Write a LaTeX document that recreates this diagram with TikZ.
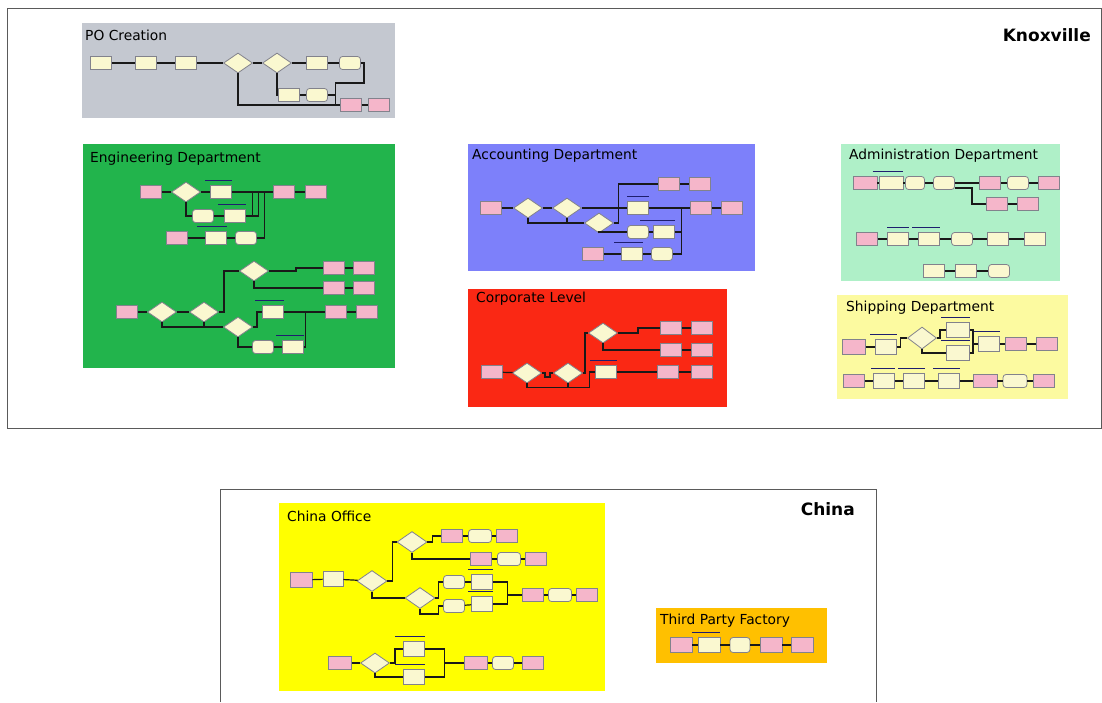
\documentclass[tikz,border=0pt]{standalone}
\usepackage{fontspec}
\setmainfont{DejaVu Sans}
\usetikzlibrary{shapes.geometric}
\definecolor{pogray}{RGB}{196,200,208}
\definecolor{enggreen}{RGB}{34,180,76}
\definecolor{accblue}{RGB}{125,128,250}
\definecolor{corpred}{RGB}{250,40,20}
\definecolor{admmint}{RGB}{175,240,200}
\definecolor{shipyel}{RGB}{252,250,160}
\definecolor{chinayel}{RGB}{255,255,0}
\definecolor{tpforange}{RGB}{255,192,0}
\definecolor{pinkbox}{RGB}{245,182,202}
\definecolor{creambox}{RGB}{250,248,208}
\definecolor{boxedge}{RGB}{130,130,140}
\definecolor{lineclr}{RGB}{25,25,25}
\definecolor{barclr}{RGB}{30,30,110}
\definecolor{frameclr}{RGB}{90,90,90}
\tikzset{
  ptitle/.style={anchor=west, inner sep=0pt, font=\fontsize{13.8}{15}\selectfont},
  big/.style={anchor=east, inner sep=0pt, font=\fontsize{17}{19}\selectfont\bfseries},
  pk/.style={rectangle, draw=boxedge, line width=0.8pt, fill=pinkbox, minimum width=21pt, minimum height=13pt, inner sep=0pt},
  yb/.style={rectangle, draw=boxedge, line width=0.8pt, fill=creambox, minimum width=21pt, minimum height=13pt, inner sep=0pt},
  rb/.style={yb, rounded corners=3pt},
  dm/.style={diamond, draw=boxedge, line width=0.8pt, fill=creambox, minimum width=29pt, minimum height=20pt, inner sep=0pt},
  cn/.style={draw=lineclr, line width=1.2pt},
  barln/.style={draw=barclr, line width=1.1pt},
  frame/.style={draw=frameclr, line width=0.8pt}
}
\newcommand\topbar[2][0]{\draw[barln] ([xshift=-#1pt,yshift=5pt]#2.north west) -- ([yshift=5pt]#2.north east);}
\begin{document}
\begin{tikzpicture}[x=1pt,y=-1pt]
\useasboundingbox (0,0) rectangle (1102,702);
\fill[white] (0,0) rectangle (1102,702);
% frames
\draw[frame] (7,8) rectangle (1101,428);
\node[big] (knox) at (1091,35) {Knoxville};
\draw[frame] (220,702) -- (220,489) -- (876,489) -- (876,702);
\node[big] (china) at (855,509) {China};
% panels
\fill[pogray] (82,23) rectangle (395,118);
\fill[enggreen] (83,144) rectangle (395,368);
\fill[accblue] (468,144) rectangle (755,271);
\fill[corpred] (468,289) rectangle (727,407);
\fill[admmint] (841,144) rectangle (1060,281);
\fill[shipyel] (837,295) rectangle (1068,399);
\fill[chinayel] (279,503) rectangle (605,691);
\fill[tpforange] (656,608) rectangle (827,663);
\node[ptitle] (tpo) at (85,35) {PO Creation};
\node[ptitle] (teng) at (90,159) {Engineering Department};
\node[ptitle] (tacc) at (472,156) {Accounting Department};
\node[ptitle] (tcorp) at (476,299) {Corporate Level};
\node[ptitle] (tadm) at (849,156) {Administration Department};
\node[ptitle] (tship) at (846,308) {Shipping Department};
\node[ptitle] (tchina) at (287,516) {China Office};
\node[ptitle] (ttpf) at (660,621) {Third Party Factory};

% ===== PO Creation =====
\node[yb] (po1) at (101,63) {};
\node[yb] (po2) at (146,63) {};
\node[yb] (po3) at (186,63) {};
\node[dm] (pod1) at (238,63) {};
\node[dm] (pod2) at (277,63) {};
\node[yb] (po4) at (317,63) {};
\node[rb] (po5) at (350,63) {};
\node[yb] (po6) at (289,95) {};
\node[rb] (po7) at (317,95) {};
\node[pk] (pop1) at (351,105) {};
\node[pk] (pop2) at (379,105) {};
\draw[cn] (po1) -- (po2); \draw[cn] (po2) -- (po3); \draw[cn] (po3) -- (pod1);
\draw[cn] (pod1) -- (pod2); \draw[cn] (pod2) -- (po4); \draw[cn] (po4) -- (po5);
\draw[cn] (pod2.south) |- (po6.west);
\draw[cn] (po6) -- (po7);
\draw[cn] (po5.east) -- ++(3,0) -- ++(0,20) -| ([xshift=-5pt]pop1.west) -- (pop1.west);
\draw[cn] (po7.east) -- ++(8,0);
\draw[cn] (pod1.south) |- (pop1.west);
\draw[cn] (pop1) -- (pop2);

% ===== Engineering =====
\node[pk] (e1) at (151,192) {};
\node[dm] (ed1) at (186,192) {};
\node[yb] (e2) at (221,192) {};
\node[pk] (e3) at (284,192) {};
\node[pk] (e4) at (316,192) {};
\node[rb] (e5) at (203,216) {};
\node[yb] (e6) at (235,216) {};
\node[pk] (e7) at (177,238) {};
\node[yb] (e8) at (216,238) {};
\node[rb] (e9) at (246,238) {};
\topbar[5]{e2} \topbar[6]{e6} \topbar[8]{e8}
\draw[cn] (e1) -- (ed1); \draw[cn] (ed1) -- (e2); \draw[cn] (e2) -- (e3); \draw[cn] (e3) -- (e4);
\draw[cn] (ed1.south) |- (e5.west);
\draw[cn] (e5) -- (e6);
\draw[cn] (e6.east) -- ++(12.5,0) -- ++(0,-24);
\draw[cn] (e6.east) ++(6.5,0) -- ++(0,-24);
\draw[cn] (e7) -- (e8); \draw[cn] (e8) -- (e9);
\draw[cn] (e9.east) -- ++(7.5,0) -- ++(0,-46);
\node[pk] (e10) at (127,312) {};
\node[dm] (ed2) at (162,312) {};
\node[dm] (ed3) at (204,312) {};
\node[dm] (ed4) at (254,271) {};
\node[pk] (e11) at (334,268) {};
\node[pk] (e12) at (364,268) {};
\node[pk] (e13) at (334,288) {};
\node[pk] (e14) at (364,288) {};
\node[dm] (ed5) at (238,327) {};
\node[yb] (e15) at (273,312) {};
\node[pk] (e16) at (336,312) {};
\node[pk] (e17) at (367,312) {};
\node[rb] (e18) at (263,347) {};
\node[yb] (e19) at (293,347) {};
\topbar[7]{e15} \topbar[6]{e19}
\draw[cn] (e10) -- (ed2); \draw[cn] (ed2) -- (ed3);
\draw[cn] (ed3.east) -- ++(5,0) |- (ed4.west);
\draw[cn] (ed4.east) -- ++(27,0) |- (e11.west);
\draw[cn] (ed4.south) |- (e13.west);
\draw[cn] (e11) -- (e12); \draw[cn] (e13) -- (e14);
\draw[cn] (ed2.south) |- (ed5.west);
\draw[cn] (ed3.south) -- ++(0,5);
\draw[cn] (ed5.east) -- ++(4,0) |- (e15.west);
\draw[cn] (ed5.south) |- (e18.west);
\draw[cn] (e18) -- (e19);
\draw[cn] (e15) -- (e16);
\draw[cn] (e19.east) -| ([xshift=-20pt]e16.west);
\draw[cn] (e16) -- (e17);

% ===== Accounting =====
\node[pk] (a1) at (491,208) {};
\node[dm] (ad1) at (528,208) {};
\node[dm] (ad2) at (567,208) {};
\node[dm] (ad3) at (599,223) {};
\node[yb] (a2) at (638,208) {};
\node[pk] (a3) at (669,184) {};
\node[pk] (a4) at (700,184) {};
\node[pk] (a5) at (701,208) {};
\node[pk] (a6) at (732,208) {};
\node[rb] (a7) at (638,232) {};
\node[yb] (a8) at (664,232) {};
\node[pk] (a9) at (593,254) {};
\node[yb] (a10) at (632,254) {};
\node[rb] (a11) at (662,254) {};
\topbar{a2} \topbar[13]{a8} \topbar[7]{a10}
\draw[cn] (a1) -- (ad1); \draw[cn] (ad1) -- (ad2); \draw[cn] (ad2) -- (a2);
\draw[cn] (a2) -- (a5); \draw[cn] (a5) -- (a6);
\draw[cn] (ad1.south) |- (ad3.west);
\draw[cn] (ad2.south) -- ++(0,5);
\draw[cn] (ad3.east) -- ++(4.5,0) |- (a3.west);
\draw[cn] (a3) -- (a4);
\draw[cn] (ad3.south) |- (a7.west);
\draw[cn] (a7) -- (a8);
\draw[cn] (a8.east) -- ++(6.5,0) -- ++(0,-24);
\draw[cn] (a9) -- (a10); \draw[cn] (a10) -- (a11);
\draw[cn] (a11.east) -| ([xshift=-8.5pt]a5.west);

% ===== Corporate =====
\node[pk] (c1) at (492,372) {};
\node[dm] (cd1) at (527,373) {};
\node[dm] (cd2) at (568,373) {};
\node[dm] (cd3) at (603,333) {};
\node[pk] (c2) at (671,328) {};
\node[pk] (c3) at (702,328) {};
\node[pk] (c4) at (671,350) {};
\node[pk] (c5) at (702,350) {};
\node[yb] (c6) at (606,372) {};
\node[pk] (c7) at (668,372) {};
\node[pk] (c8) at (702,372) {};
\topbar[5]{c6}
\draw[cn] (c1) -- (cd1);
\draw[cn] (cd1.east) -- ++(3,0) -- ++(0,4) -- ++(5,0) -- ++(0,-4) -- (cd2.west);
\draw[cn] (cd2.east) -- ++(2,0) |- (cd3.west);
\draw[cn] (cd3.east) -- ++(20,0) |- (c2.west);
\draw[cn] (cd3.south) |- (c4.west);
\draw[cn] (c2) -- (c3); \draw[cn] (c4) -- (c5);
\draw[cn] (cd1.south) -- ++(0,4) -| ([xshift=-6pt]c6.west) -- (c6.west);
\draw[cn] (cd2.south) -- ++(0,4);
\draw[cn] (c6) -- (c7); \draw[cn] (c7) -- (c8);

% ===== Administration =====
\node[pk, minimum width=24pt] (d1) at (865,183) {};
\node[yb, minimum width=24pt] (d2) at (891,183) {};
\node[rb, minimum width=19pt] (d3) at (915,183) {};
\node[rb] (d4) at (944,183) {};
\node[pk] (d5) at (990,183) {};
\node[rb] (d6) at (1018,183) {};
\node[pk] (d7) at (1049,183) {};
\node[pk] (d8) at (997,204) {};
\node[pk] (d9) at (1028,204) {};
\node[pk] (d10) at (867,239) {};
\node[yb] (d11) at (898,239) {};
\node[yb] (d12) at (929,239) {};
\node[rb] (d13) at (962,239) {};
\node[yb] (d14) at (998,239) {};
\node[yb] (d15) at (1035,239) {};
\node[yb] (d16) at (934,271) {};
\node[yb] (d17) at (966,271) {};
\node[rb] (d18) at (999,271) {};
\topbar[6]{d2} \topbar{d11} \topbar[6]{d12}
\draw[cn] (d1) -- (d2); \draw[cn] (d2) -- (d3); \draw[cn] (d3) -- (d4);
\draw[cn] (d4) -- (d5); \draw[cn] (d5) -- (d6); \draw[cn] (d6) -- (d7);
\draw[cn] ([yshift=-5pt]d4.east) -- ++(17,0) |- (d8.west);
\draw[cn] (d8) -- (d9);
\draw[cn] (d10) -- (d11); \draw[cn] (d11) -- (d12); \draw[cn] (d12) -- (d13);
\draw[cn] (d13) -- (d14); \draw[cn] (d14) -- (d15);
\draw[cn] (d16) -- (d17); \draw[cn] (d17) -- (d18);

% ===== Shipping =====
\node[pk, minimum width=23pt, minimum height=15pt] (s1) at (854,347) {};
\node[yb, minimum height=15pt] (s2) at (886,347) {};
\node[dm, minimum height=22pt] (sd1) at (922,338) {};
\node[yb, minimum width=23pt, minimum height=15pt] (s3) at (958,330) {};
\node[yb, minimum width=23pt, minimum height=15pt] (s4) at (958,353) {};
\node[yb, minimum height=15pt] (s5) at (989,344) {};
\node[pk] (s6) at (1016,344) {};
\node[pk] (s7) at (1047,344) {};
\node[pk] (s8) at (854,381) {};
\node[yb, minimum height=15pt] (s9) at (884,381) {};
\node[yb, minimum height=15pt] (s10) at (914,381) {};
\node[yb, minimum height=15pt] (s11) at (949,381) {};
\node[pk, minimum width=24pt] (s12) at (985,381) {};
\node[rb, minimum width=24pt] (s13) at (1015,381) {};
\node[pk] (s14) at (1044,381) {};
\topbar[5]{s2} \topbar[5]{s3} \topbar[5]{s4} \topbar[5]{s5}
\topbar[2]{s9} \topbar[5]{s10} \topbar[5]{s11}
\draw[cn] (s1) -- (s2);
\draw[cn] (s2.east) -- ++(3.5,0) |- (sd1.west);
\draw[cn] (sd1.east) -- ++(3,0) |- (s3.west);
\draw[cn] (sd1.south) |- (s4.west);
\draw[cn] (s3.east) -- ++(3,0) |- (s5.west);
\draw[cn] (s4.east) -- ++(3,0) |- (s5.west);
\draw[cn] (s5) -- (s6); \draw[cn] (s6) -- (s7);
\draw[cn] (s8) -- (s9); \draw[cn] (s9) -- (s10); \draw[cn] (s10) -- (s11);
\draw[cn] (s11) -- (s12); \draw[cn] (s12) -- (s13); \draw[cn] (s13) -- (s14);

% ===== China Office =====
\node[pk, minimum width=22pt, minimum height=15pt] (h1) at (301,580) {};
\node[yb, minimum width=20pt, minimum height=15pt] (h2) at (333,579) {};
\node[dm, minimum width=30pt, minimum height=21pt] (hd1) at (372,581) {};
\node[dm, minimum width=30pt, minimum height=21pt] (hd2) at (412,542) {};
\node[pk] (h3) at (452,536) {};
\node[rb, minimum width=23pt] (h4) at (480,536) {};
\node[pk] (h5) at (507,536) {};
\node[pk] (h6) at (481,559) {};
\node[rb, minimum width=23pt] (h7) at (509,559) {};
\node[pk] (h8) at (536,559) {};
\node[dm, minimum width=30pt, minimum height=21pt] (hd3) at (420,598) {};
\node[rb] (h9) at (454,582) {};
\node[yb, minimum height=15pt] (h10) at (482,582) {};
\node[rb] (h11) at (454,606) {};
\node[yb, minimum height=15pt] (h12) at (482,604) {};
\node[pk] (h13) at (533,595) {};
\node[rb, minimum width=23pt] (h14) at (560,595) {};
\node[pk] (h15) at (587,595) {};
\node[pk, minimum width=23pt] (h16) at (340,663) {};
\node[dm] (hd4) at (375,663) {};
\node[yb, minimum height=15pt] (h17) at (414,649) {};
\node[yb, minimum height=15pt] (h18) at (414,677) {};
\node[pk, minimum width=23pt] (h19) at (476,663) {};
\node[rb] (h20) at (503,663) {};
\node[pk] (h21) at (533,663) {};
\topbar[3]{h10} \topbar[3]{h12} \topbar[8]{h17} \topbar[8]{h18}
\draw[cn] (h1) -- (h2); \draw[cn] (h2) -- (hd1);
\draw[cn] (hd1.east) -- ++(5,0) |- (hd2.west);
\draw[cn] (hd2.east) -- ++(5,0) |- (h3.west);
\draw[cn] (h3) -- (h4); \draw[cn] (h4) -- (h5);
\draw[cn] (hd2.south) |- (h6.west);
\draw[cn] (h6) -- (h7); \draw[cn] (h7) -- (h8);
\draw[cn] (hd1.south) |- (hd3.west);
\draw[cn] (hd3.east) -- ++(3,0) |- (h9.west);
\draw[cn] (hd3.south) -- ++(0,5) -| ([xshift=-5pt]h11.west) -- (h11.west);
\draw[cn] (h9) -- (h10); \draw[cn] (h11) -- (h12);
\draw[cn] (h10.east) -| ([xshift=-15pt]h13.west |- h12.east) -- (h12.east);
\draw[cn] ([xshift=-15pt]h13.west) -- (h13.west);
\draw[cn] (h13) -- (h14); \draw[cn] (h14) -- (h15);
\draw[cn] (h16) -- (hd4);
\draw[cn] (hd4.east) -- ++(5,0) |- (h17.west);
\draw[cn] (hd4.south) |- (h18.west);
\draw[cn] (h17.east) -| ([xshift=-20pt]h19.west |- h18.east) -- (h18.east);
\draw[cn] ([xshift=-20pt]h19.west) -- (h19.west);
\draw[cn] (h19) -- (h20); \draw[cn] (h20) -- (h21);

% ===== Third Party Factory =====
\node[pk, minimum width=22pt, minimum height=15pt] (t1) at (681,645) {};
\node[yb, minimum width=22pt, minimum height=15pt] (t2) at (709,645) {};
\node[rb, minimum width=20pt, minimum height=15pt] (t3) at (740,645) {};
\node[pk, minimum width=22pt, minimum height=15pt] (t4) at (771,645) {};
\node[pk, minimum width=22pt, minimum height=15pt] (t5) at (802,645) {};
\topbar[6]{t2}
\draw[cn] (t1) -- (t2); \draw[cn] (t2) -- (t3); \draw[cn] (t3) -- (t4); \draw[cn] (t4) -- (t5);
\end{tikzpicture}
\end{document}
